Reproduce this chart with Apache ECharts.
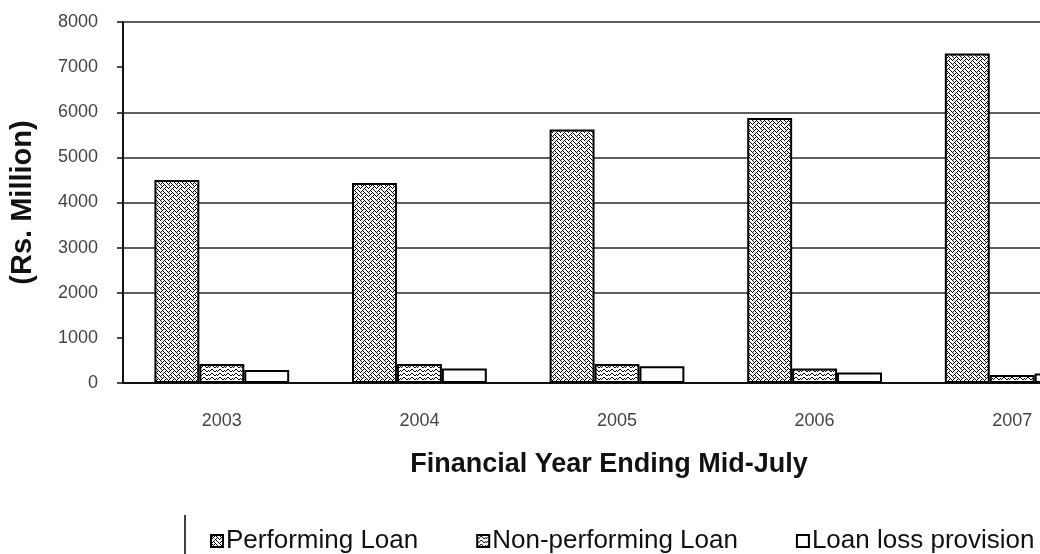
<!DOCTYPE html>
<html>
<head>
<meta charset="utf-8">
<script src="https://cdn.jsdelivr.net/npm/echarts@6/dist/echarts.min.js"></script>
<style>
  html, body { margin: 0; padding: 0; background: #fff; overflow: hidden; }
  #chart { width: 1120px; height: 554px; }
</style>
</head>
<body>
<div id="chart"></div>
<script>
// Loan portfolio by financial year (Rs. Million)
const years = ['2003', '2004', '2005', '2006', '2007'];
const performingLoan = [4500, 4430, 5620, 5870, 7300];
const nonPerformingLoan = [420, 420, 420, 320, 180];
const loanLossProvision = [290, 320, 370, 230, 210];
const gridValues = [2000, 3000, 4000, 5000, 6000, 8000];

// Bitmap hatch tiles (8x8, one byte per row)
function hatch(rows) {
  const c = document.createElement('canvas');
  c.width = 8; c.height = 8;
  const g = c.getContext('2d');
  g.fillStyle = '#fff';
  g.fillRect(0, 0, 8, 8);
  g.fillStyle = '#000';
  rows.forEach((r, y) => {
    for (let x = 0; x < 8; x++) {
      if (r & (0x80 >> x)) g.fillRect(x, y, 1, 1);
    }
  });
  return { image: c, repeat: 'repeat' };
}
const weave = hatch([0x88, 0x54, 0x22, 0x45, 0x88, 0x14, 0x22, 0x51]);
const wave = hatch([0x00, 0x18, 0xA4, 0x43, 0x00, 0x18, 0xA4, 0x43]);

const chart = echarts.init(document.getElementById('chart'), null, { renderer: 'canvas' });

chart.setOption({
  animation: false,
  backgroundColor: '#fff',
  textStyle: { fontFamily: '"Liberation Sans", Arial, sans-serif' },
  grid: { left: 121, top: 22, width: 990, height: 361, containLabel: false },
  legend: {
    left: 205, top: 523,
    itemWidth: 12, itemHeight: 12, itemGap: 58,
    icon: 'rect',
    textStyle: { fontSize: 26, color: '#111', padding: [0, 0, 0, -2] },
    data: ['Performing Loan', 'Non-performing Loan', 'Loan loss provision']
  },
  xAxis: {
    type: 'category',
    data: years,
    name: 'Financial Year Ending Mid-July',
    nameLocation: 'middle',
    nameGap: 68,
    nameTextStyle: { fontSize: 27, fontWeight: 'bold', color: '#111', padding: [0, 16, 0, 0] },
    axisLine: { lineStyle: { color: '#111', width: 2 } },
    axisTick: { length: 6, lineStyle: { color: '#111', width: 1.5 } },
    axisLabel: { margin: 29, fontSize: 18, color: '#444' }
  },
  yAxis: {
    type: 'value',
    min: 0, max: 8000, interval: 1000,
    name: '(Rs. Million)',
    nameLocation: 'middle',
    nameGap: 86,
    nameRotate: 90,
    nameTextStyle: { fontSize: 29, fontWeight: 'bold', color: '#111' },
    axisLine: { show: true, lineStyle: { color: '#111', width: 2 } },
    axisTick: { show: true, length: 6, lineStyle: { color: '#111', width: 1.5 } },
    axisLabel: { margin: 25, fontSize: 18, color: '#444', formatter: v => String(v) },
    splitLine: { show: false }
  },
  series: [
    {
      name: 'Performing Loan', type: 'bar', data: performingLoan,
      barGap: '0%', barCategoryGap: '31.8%',
      itemStyle: { color: weave, borderColor: '#000', borderWidth: 2 },
      markLine: {
        z: 1, silent: true, symbol: 'none', animation: false,
        label: { show: false },
        lineStyle: { color: '#2a2a2a', width: 1.5, type: 'solid' },
        data: gridValues.map(v => ({ yAxis: v }))
      }
    },
    {
      name: 'Non-performing Loan', type: 'bar', data: nonPerformingLoan,
      barGap: '0%', barCategoryGap: '31.8%',
      itemStyle: { color: wave, borderColor: '#000', borderWidth: 2 }
    },
    {
      name: 'Loan loss provision', type: 'bar', data: loanLossProvision,
      barGap: '0%', barCategoryGap: '31.8%',
      itemStyle: { color: '#fff', borderColor: '#000', borderWidth: 2 }
    }
  ],
  graphic: [
    { type: 'line', shape: { x1: 185, y1: 515, x2: 185, y2: 554 }, style: { stroke: '#000', lineWidth: 1.5 } }
  ]
});
</script>
</body>
</html>
